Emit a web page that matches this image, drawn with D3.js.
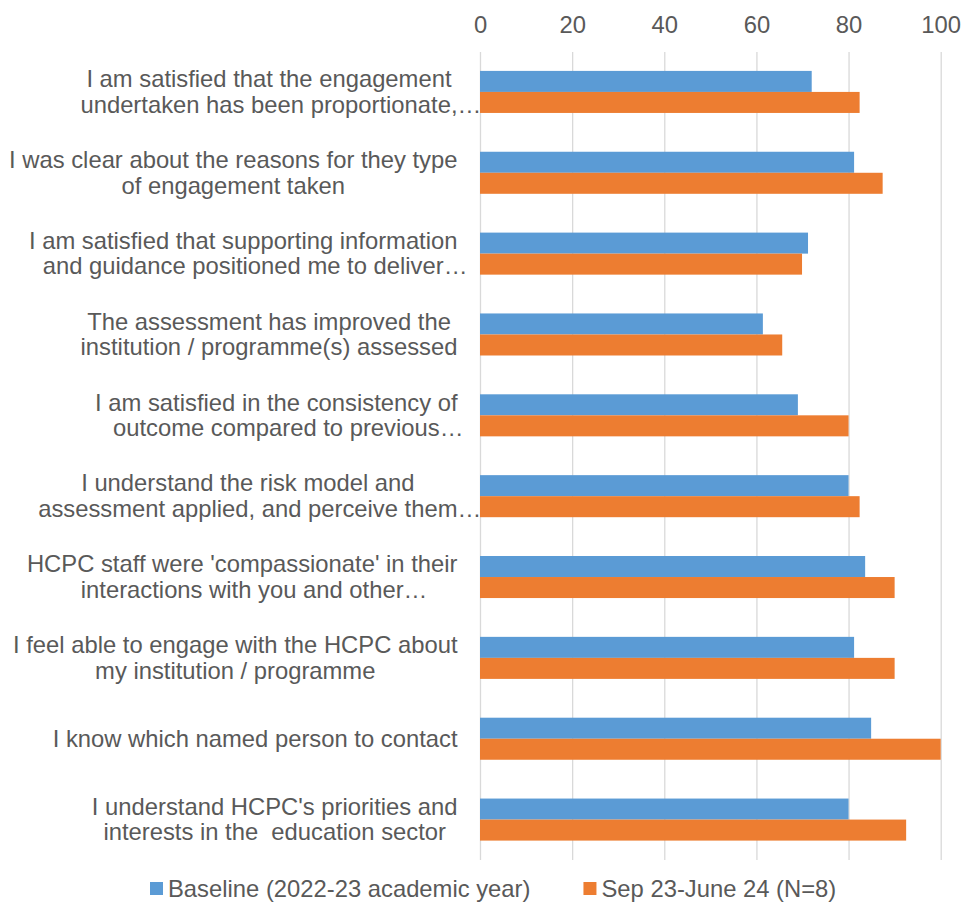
<!DOCTYPE html>
<meta charset="utf-8">
<style>
body { margin: 0; background: #fff; }
text {
  font-family: "Liberation Sans", Arial, sans-serif;
  font-size: 23.8px;
  fill: #595959;
  white-space: pre;
}
.grid line { stroke: #d9d9d9; stroke-width: 1.3px; }
</style>
<svg width="963" height="923"></svg>
<script src="https://d3js.org/d3.v7.min.js"></script>
<script>

// category labels, as wrapped (and cut) in the original chart
var categories = [
  ["I am satisfied that the engagement", "undertaken has been proportionate,…"],
  ["I was clear about the reasons for they type", "of engagement taken"],
  ["I am satisfied that supporting information", "and guidance positioned me to deliver…"],
  ["The assessment has improved the", "institution / programme(s) assessed"],
  ["I am satisfied in the consistency of", "outcome compared to previous…"],
  ["I understand the risk model and", "assessment applied, and perceive them…"],
  ["HCPC staff were 'compassionate' in their", "interactions with you and other…"],
  ["I feel able to engage with the HCPC about", "my institution / programme"],
  ["I know which named person to contact"],
  ["I understand HCPC's priorities and", "interests in the  education sector"]
];

var seriesNames = ["Baseline (2022-23 academic year)", "Sep 23-June 24 (N=8)"];
var seriesColors = ["#5b9bd5", "#ed7d31"];

var baseline = [72, 81.2, 71.2, 61.4, 69, 80, 83.6, 81.2, 84.9, 80];
var current  = [82.4, 87.4, 69.9, 65.6, 80, 82.4, 90, 90, 100, 92.5];

var xTicks = [0, 20, 40, 60, 80, 100];

var svg = d3.select("svg"),
    plotTop = 52, plotBottom = 860,
    labelRight = 457.5,
    lineGap = 25.6;

var x = d3.scaleLinear().domain([0, 100]).range([480, 940.7]);

var y = d3.scaleBand()
    .domain(d3.range(categories.length))
    .range([51.5, plotBottom])
    .paddingInner(0.48)
    .paddingOuter(0.24);

var ySub = d3.scaleBand().domain([0, 1]).range([0, y.bandwidth()]);

// gridlines + tick labels
var axis = svg.append("g")
    .attr("class", "grid")
    .attr("transform", "translate(0," + plotTop + ")")
    .call(d3.axisTop(x).tickValues(xTicks).tickSize(-(plotBottom - plotTop)).tickPadding(19.3));
axis.select(".domain").remove();
axis.selectAll("text")
    .attr("fill", null)
    .style("font-size", "23.8px")
    .style("font-family", '"Liberation Sans", Arial, sans-serif');

// bars
var rows = categories.map(function(c, i) { return { i: i, values: [baseline[i], current[i]] }; });

var groups = svg.append("g").selectAll("g")
  .data(rows)
  .enter().append("g")
    .attr("transform", function(d) { return "translate(0," + y(d.i) + ")"; });

groups.selectAll("rect")
  .data(function(d) { return d.values.map(function(v, k) { return { k: k, v: v }; }); })
  .enter().append("rect")
    .attr("x", x(0))
    .attr("y", function(d) { return ySub(d.k); })
    .attr("width", function(d) { return x(d.v) - x(0); })
    .attr("height", ySub.bandwidth())
    .attr("fill", function(d) { return seriesColors[d.k]; });

// category labels: lines centred on the block, block right-aligned
var labels = svg.append("g");
categories.forEach(function(lines, i) {
  var cy = y(i) + y.bandwidth() / 2;
  var n = lines.length;
  var items = lines.map(function(s, j) {
    var t = labels.append("text")
        .attr("y", cy + 8 + (j - (n - 1) / 2) * lineGap)
        .text(s.replace(/…$/, ""));
    var w = t.node().getComputedTextLength();
    t.text(s);
    return { t: t, w: w };
  });
  var maxW = d3.max(items, function(d) { return d.w; });
  var cx = labelRight - maxW / 2;
  items.forEach(function(d) { d.t.attr("x", cx - d.w / 2); });
});

// legend
var legend = svg.append("g").attr("transform", "translate(150,897)");
var lx = 0;
seriesNames.forEach(function(name, k) {
  legend.append("rect")
      .attr("x", lx).attr("y", -15)
      .attr("width", 13).attr("height", 13)
      .attr("fill", seriesColors[k]);
  var t = legend.append("text").attr("x", lx + 18).attr("y", 0).text(name);
  lx += 18 + t.node().getComputedTextLength() + 53;
});

</script>
